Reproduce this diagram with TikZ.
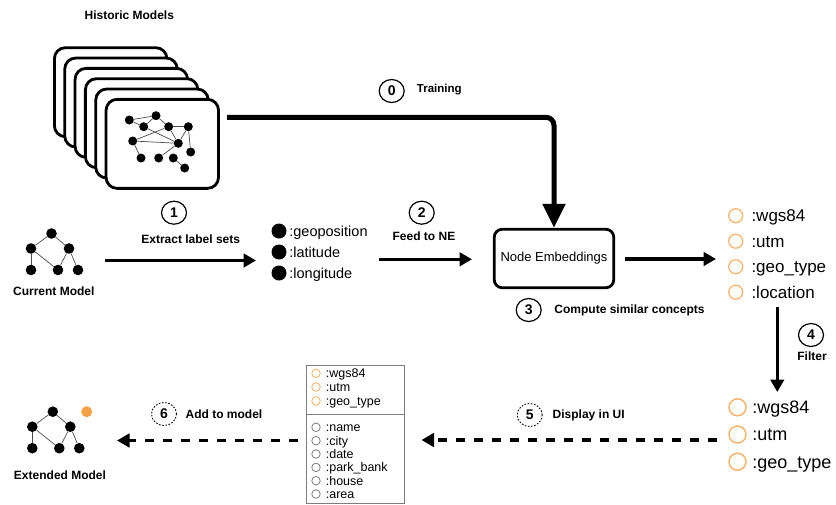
\documentclass[tikz,border=0pt]{standalone}
\usepackage{fontspec}
\setmainfont{Liberation Sans}
\usetikzlibrary{arrows.meta,shapes.geometric}
\definecolor{ringorange}{RGB}{247,176,102}
\definecolor{dotorange}{RGB}{246,160,72}
\definecolor{uigray}{RGB}{125,125,125}
\tikzset{
  lbl/.style={font=\fontsize{12}{14}\selectfont\bfseries},
  card/.style={draw,line width=2.8pt,fill=white,rounded corners=11pt,anchor=north west,
    minimum width=112.5pt,minimum height=89pt},
  gdot/.style={circle,fill=black,inner sep=0pt,minimum size=9pt},
  tdot/.style={circle,fill=black,inner sep=0pt,minimum size=10.6pt},
  gedge/.style={draw=black!70,line width=0.7pt},
  arr/.style={line width=3.2pt,-{Triangle[length=12.5pt,width=13.5pt]}},
  dasharr/.style={arr,dash pattern=on 9pt off 9pt},
  trainarr/.style={line width=5pt,rounded corners=8pt,-{Triangle[length=24pt,width=22pt]}},
  stepno/.style={ellipse,draw,line width=1.2pt,minimum width=25pt,minimum height=23pt,
    inner sep=0pt,font=\fontsize{14}{14}\selectfont\bfseries},
  stepdash/.style={stepno,line width=0.9pt,dash pattern=on 1.6pt off 1.6pt},
  bullet/.style={circle,fill=black,inner sep=0pt,minimum size=15pt},
  ring/.style={circle,draw=ringorange,line width=1.2pt,inner sep=0pt,minimum size=14pt},
  bigring/.style={circle,draw=ringorange,line width=1.4pt,inner sep=0pt,minimum size=17pt},
  uiring/.style={circle,draw=ringorange,line width=0.8pt,inner sep=0pt,minimum size=8.5pt},
  uigrey/.style={uiring,draw=uigray},
  bullettext/.style={anchor=base west,inner sep=0pt,xshift=2.5pt,yshift=-5.3pt,
    font=\fontsize{14.5}{16}\selectfont},
  ringtext/.style={anchor=base west,inner sep=0pt,xshift=8pt,yshift=-5.8pt,
    font=\fontsize{17}{19}\selectfont},
  bigringtext/.style={anchor=base west,inner sep=0pt,xshift=5.5pt,yshift=-6.3pt,
    font=\fontsize{18}{20}\selectfont},
  uitext/.style={anchor=base west,inner sep=0pt,xshift=5pt,yshift=-4.5pt,
    font=\fontsize{12.5}{14}\selectfont},
}
\def\listitem#1#2#3#4#5{
  % 1: name
  % 2: style of the marker
  % 3: style of the text
  % 4: position of the marker
  % 5: label
  \node[#2] (#1) at (#4) {};
  \node[#3] (#1t) at (#1.east) {#5};
}
\def\smalltree#1#2{
  % 1: prefix of the node names
  % 2: shift
  \begin{scope}[shift={(#2)}]
    \node[tdot] (#11) at (20.5,0) {};
    \node[tdot] (#12) at (0,15) {};
    \node[tdot] (#13) at (38,15) {};
    \node[tdot] (#14) at (0,36.5) {};
    \node[tdot] (#15) at (27,36.5) {};
    \node[tdot] (#16) at (47,36.5) {};
    \foreach \u/\v in {1/2,1/3,2/4,2/5,3/5,3/6}
      \draw[gedge] (#1\u) -- (#1\v);
  \end{scope}
}

\begin{document}
\begin{tikzpicture}[x=1pt,y=-1pt]
  \useasboundingbox (0,0) rectangle (836,504);

  % historic models
  \node[lbl] (histlbl) at (129.3,15.7) {Historic Models};
  \foreach \i in {0,...,5}
    \node[card] (card\i) at ({53+10.33*\i},{46.3+10.33*\i}) {};
  \foreach \n/\p in {1/{129.3,120},2/{156,115.7},3/{143.7,126.7},4/{168.7,126.7},
      5/{188.3,126.7},6/{132.7,141},7/{178.3,143.3},8/{141,158},9/{158.7,158},
      10/{173.3,158},11/{190.7,152},12/{184.7,168}}
    \node[gdot] (h\n) at (\p) {};
  \foreach \u/\v in {1/2,1/3,2/3,2/4,4/5,3/7,6/4,6/7,6/8,9/7,5/7,5/11,10/12,4/7}
    \draw[gedge] (h\u) -- (h\v);

  % current model
  \smalltree{c}{31,233.5}
  \node[lbl] (curlbl) at (53.8,291.7) {Current Model};

  % label sets
  \listitem{b1}{bullet}{bullettext}{279,231}{:geoposition}
  \listitem{b2}{bullet}{bullettext}{279,252}{:latitude}
  \listitem{b3}{bullet}{bullettext}{279,273}{:longitude}

  % node embeddings
  \node[draw,line width=2.8pt,rounded corners=8pt,minimum width=119.5pt,minimum height=58.5pt,
    font=\fontsize{13}{15}\selectfont] (ne) at (554,258.5) {Node Embeddings};

  % similar concepts
  \listitem{o1}{ring}{ringtext}{735.7,215.7}{:wgs84}
  \listitem{o2}{ring}{ringtext}{735.7,241.2}{:utm}
  \listitem{o3}{ring}{ringtext}{735.7,266.7}{:geo\_type}
  \listitem{o4}{ring}{ringtext}{735.7,292.2}{:location}

  % filtered concepts
  \listitem{f1}{bigring}{bigringtext}{737.5,407.3}{:wgs84}
  \listitem{f2}{bigring}{bigringtext}{737.5,434.5}{:utm}
  \listitem{f3}{bigring}{bigringtext}{737.5,461.7}{:geo\_type}

  % ui
  \node[draw=uigray,line width=1pt,anchor=north west,inner sep=0pt,
    minimum width=98pt,minimum height=138pt] (ui) at (306,365) {};
  \draw[uigray,line width=1pt] (ui.west |- 0,414) -- (ui.east |- 0,414);
  \listitem{u1}{uiring}{uitext}{316,373.3}{:wgs84}
  \listitem{u2}{uiring}{uitext}{316,387.1}{:utm}
  \listitem{u3}{uiring}{uitext}{316,400.9}{:geo\_type}
  \listitem{g1}{uigrey}{uitext}{316,427.3}{:name}
  \listitem{g2}{uigrey}{uitext}{316,440.7}{:city}
  \listitem{g3}{uigrey}{uitext}{316,454}{:date}
  \listitem{g4}{uigrey}{uitext}{316,467.4}{:park\_bank}
  \listitem{g5}{uigrey}{uitext}{316,480.7}{:house}
  \listitem{g6}{uigrey}{uitext}{316,494}{:area}

  % extended model
  \smalltree{e}{32.3,411.7}
  \node[circle,fill=dotorange,inner sep=0pt,minimum size=11pt] (e7) at (86.7,411.7) {};
  \node[lbl] (extlbl) at (60,475.7) {Extended Model};

  % steps
  \node[stepno] (s0) at (391.7,91) {0};
  \node[lbl,font=\fontsize{11.5}{14}\selectfont\bfseries] (s0t) at (439.3,89.5) {Training};
  \node[stepno] (s1) at (174,212.7) {1};
  \node[lbl] (s1t) at (190.7,239.3) {Extract label sets};
  \node[stepno] (s2) at (421.7,212.7) {2};
  \node[lbl] (s2t) at (424,236) {Feed to NE};
  \node[stepno] (s3) at (528.7,310) {3};
  \node[lbl] (s3t) at (629.5,310.5) {Compute similar concepts};
  \node[stepno] (s4) at (811,335) {4};
  \node[lbl] (s4t) at (812,356.7) {Filter};
  \node[stepdash] (s5) at (529.7,415) {5};
  \node[lbl] (s5t) at (588.7,415.5) {Display in UI};
  \node[stepdash] (s6) at (164,414) {6};
  \node[lbl] (s6t) at (224,414.5) {Add to model};

  % connectors
  \coordinate (trs) at (227,117.3);
  \draw[trainarr] (trs) -| (ne.north);
  \coordinate (a1s) at (105,260.5);
  \coordinate (a1e) at (256,260.5);
  \draw[arr] (a1s) -- (a1e);
  \coordinate (a2s) at (379,259.3);
  \coordinate (a2e) at (472,259.3);
  \draw[arr] (a2s) -- (a2e);
  \coordinate (a3s) at (625,259);
  \coordinate (a3e) at (716,259);
  \draw[arr] (a3s) -- (a3e);
  \coordinate (a4s) at (777.3,307);
  \coordinate (a4e) at (777.3,392);
  \draw[arr,line width=3pt] (a4s) -- (a4e);
  \coordinate (a5s) at (717,440);
  \coordinate (a5e) at (421.5,440);
  \draw[dasharr] (a5s) -- (a5e);
  \coordinate (a6s) at (298,440.5);
  \coordinate (a6e) at (117,440.5);
  \draw[dasharr] (a6s) -- (a6e);
\end{tikzpicture}
\end{document}
